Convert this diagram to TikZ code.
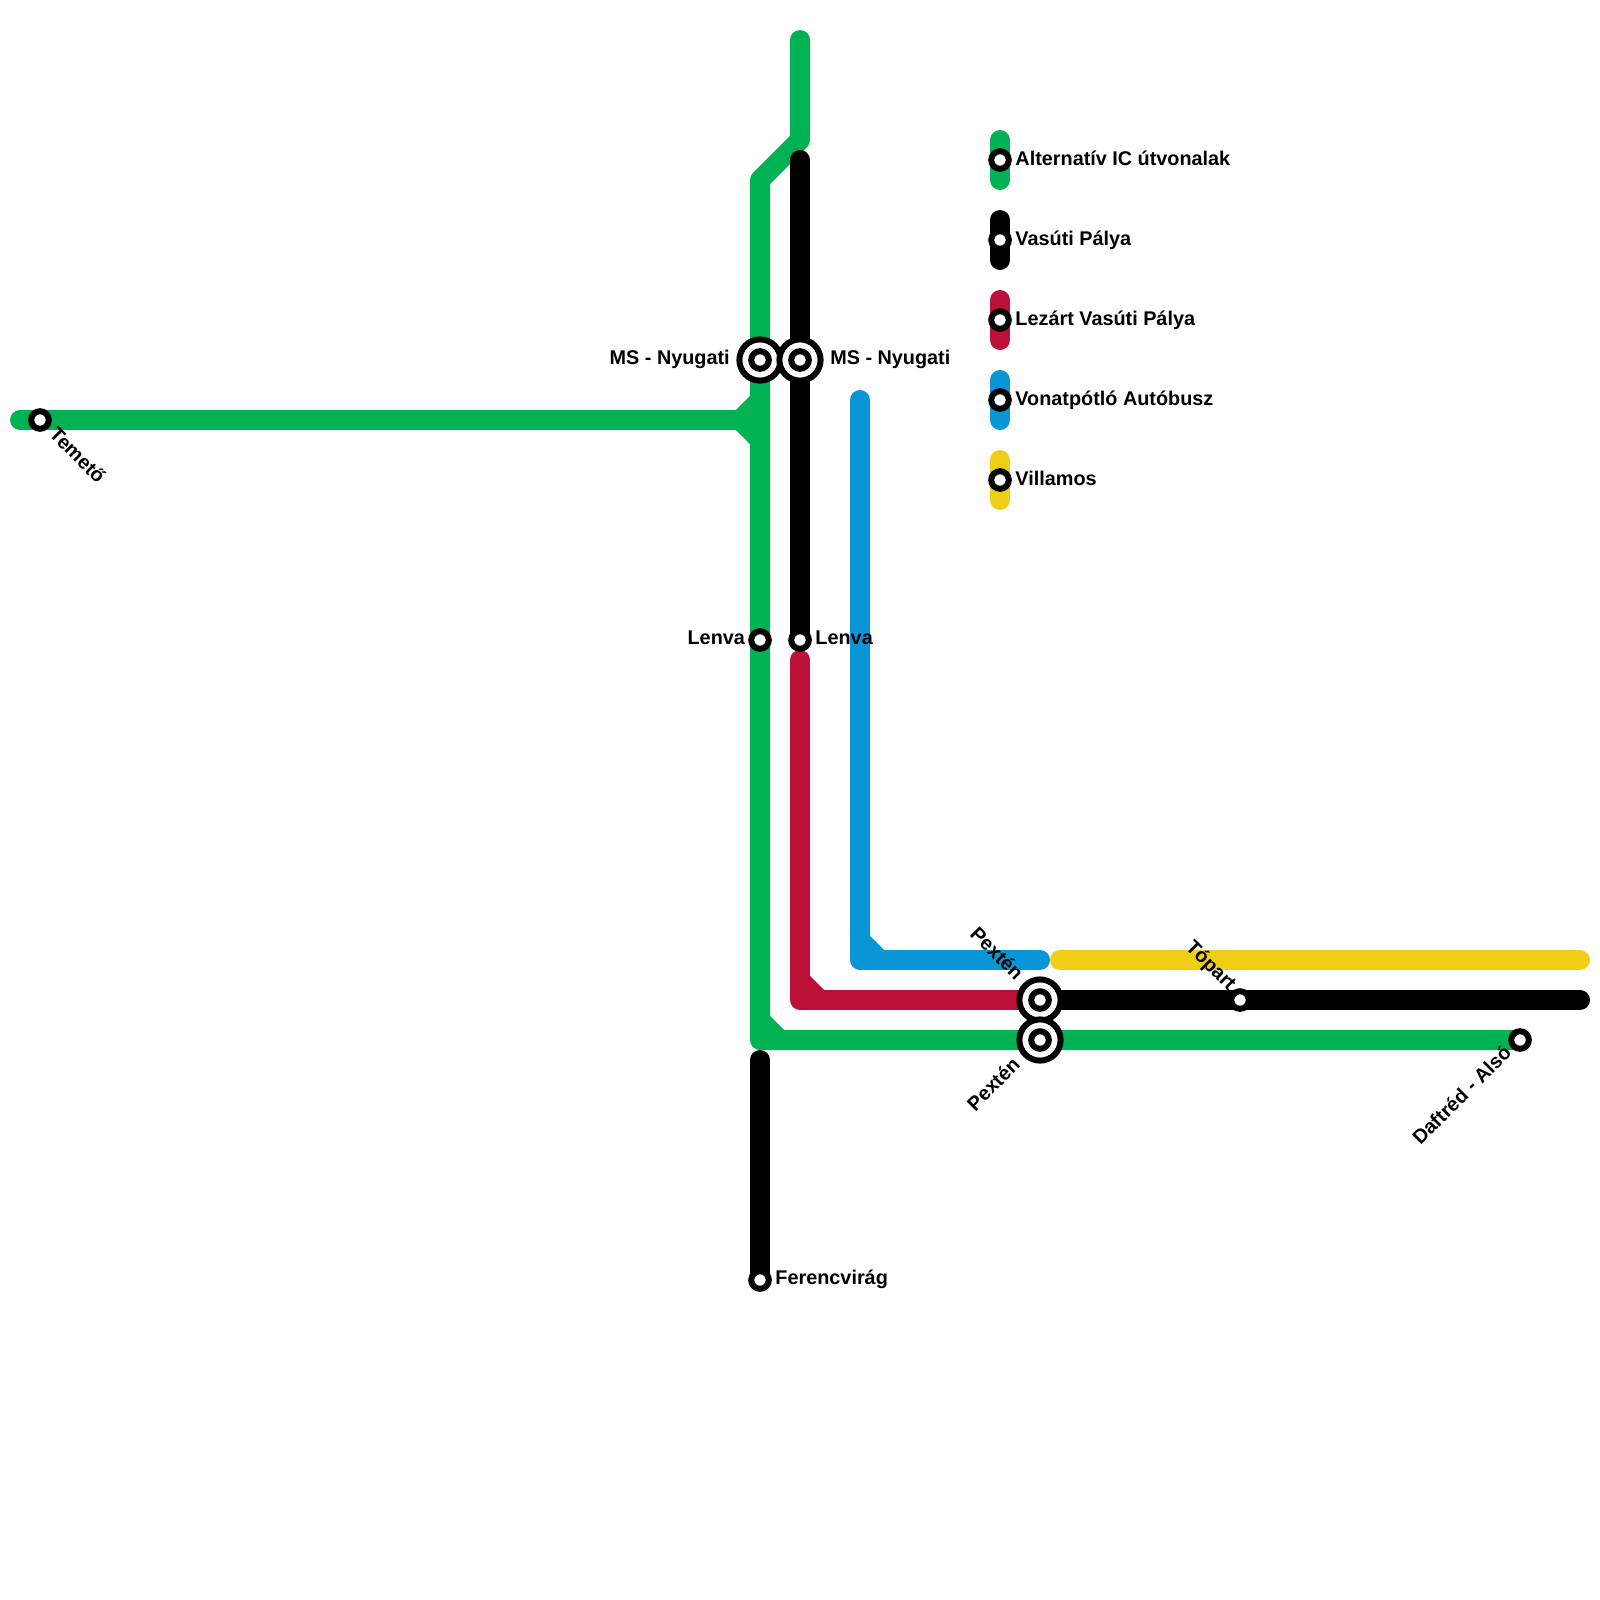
\documentclass[tikz,border=0pt]{standalone}
\usepackage{fontspec}
\setmainfont{Liberation Sans}
\definecolor{icgreen}{HTML}{00B251}
\definecolor{closedred}{HTML}{BD1038}
\definecolor{busblue}{HTML}{0896D7}
\definecolor{tramyellow}{HTML}{F0CE15}
\tikzset{
  track/.style={line width=0.5cm,line cap=round,line join=round},
  stop/.style={circle,draw=black,fill=white,line width=0.15cm,minimum size=0.44cm,inner sep=0pt},
  hub/.style={circle,draw=black,fill=white,line width=0.15cm,minimum size=1.03cm,inner sep=0pt},
  stoplabel/.style={font=\bfseries\fontsize{14.1}{17}\selectfont,text=black,inner sep=0pt}
}

\begin{document}
\begin{tikzpicture}[x=1cm,y=-1cm]
\useasboundingbox (0,0) rectangle (40,40);
% stations
\coordinate (temeto) at (1,10.5);
\coordinate (nyugatiA) at (19,9);
\coordinate (nyugatiB) at (20,9);
\coordinate (lenvaA) at (19,16);
\coordinate (lenvaB) at (20,16);
\coordinate (ferencvirag) at (19,32);
\coordinate (pextenA) at (26,25);
\coordinate (pextenB) at (26,26);
\coordinate (topart) at (31,25);
\coordinate (daftred) at (38,26);
% line ends
\coordinate (greenTop) at (20,1);
\coordinate (greenBend) at (20,3.5);
\coordinate (greenKnee) at (19,4.5);
\coordinate (greenCorner) at (19,26);
\coordinate (greenWest) at (0.5,10.5);
\coordinate (blackTop) at (20,4);
\coordinate (blackFoot) at (19,26.5);
\coordinate (blackEast) at (39.5,25);
\coordinate (redTop) at (20,16.5);
\coordinate (redCorner) at (20,25);
\coordinate (blueTop) at (21.5,10);
\coordinate (blueCorner) at (21.5,24);
\coordinate (blueEnd) at (26,24);
\coordinate (yellowStart) at (26.5,24);
\coordinate (yellowEnd) at (39.5,24);
% lines
\draw[track,icgreen] (greenTop) -- (greenBend) -- (greenKnee) -- (greenCorner) -- (daftred);
\draw[track,icgreen] (greenWest) -- (18.5,10.5);
\draw[track,icgreen,line cap=butt,line join=miter] (19,10) -- (18.5,10.5) -- (19,11);
\draw[track,icgreen,line cap=butt,line join=miter] (19,25.5) -- (19.5,26);
\draw[track] (blackTop) -- (lenvaB);
\draw[track] (blackFoot) -- (ferencvirag);
\draw[track] (pextenA) -- (topart) -- (blackEast);
\draw[track,closedred] (redTop) -- (redCorner) -- (pextenA);
\draw[track,closedred,line cap=butt] (20,24.5) -- (20.5,25);
\draw[track,busblue] (blueTop) -- (blueCorner) -- (blueEnd);
\draw[track,busblue,line cap=butt] (21.5,23.5) -- (22,24);
\draw[track,tramyellow] (yellowStart) -- (yellowEnd);
% legend
\foreach \n/\y/\c/\t in {a/4/icgreen/Alternatív IC útvonalak,b/6/black/Vasúti Pálya,c/8/closedred/Lezárt Vasúti Pálya,d/10/busblue/Vonatpótló Autóbusz,e/12/tramyellow/Villamos}{
  \draw[track,\c] (25,\y-0.5) -- (25,\y+0.5);
  \node[stop] (key\n) at (25,\y) {};
  \node[stoplabel,anchor=mid west] (keytext\n) at (25.38,\y+0.04) {\t};
}
% stops
\foreach \s in {temeto,lenvaA,lenvaB,ferencvirag,topart,daftred}
  \node[stop] (stop\s) at (\s) {};
\foreach \s in {nyugatiA,nyugatiB,pextenA,pextenB}{
  \node[hub] (hub\s) at (\s) {};
  \node[stop] (stop\s) at (\s) {};
}
% labels
\node[stoplabel,anchor=mid east] (labelNyugatiA) at (18.25,9.02) {MS - Nyugati};
\node[stoplabel,anchor=mid west] (labelNyugatiB) at (20.75,9.02) {MS - Nyugati};
\node[stoplabel,anchor=mid east] (labelLenvaA) at (18.63,16.02) {Lenva};
\node[stoplabel,anchor=mid west] (labelLenvaB) at (20.38,16.02) {Lenva};
\node[stoplabel,anchor=mid west] (labelFerencvirag) at (19.38,32.02) {Ferencvirág};
\node[stoplabel,anchor=mid west,rotate=-45] (labelTemeto) at (1.27,10.82) {Temető};
\node[stoplabel,anchor=mid east,rotate=-45] (labelPextenA) at (25.45,24.47) {Pextén};
\node[stoplabel,anchor=mid east,rotate=45] (labelPextenB) at (25.47,26.58) {Pextén};
\node[stoplabel,anchor=mid east,rotate=-45] (labelTopart) at (30.78,24.73) {Tópart};
\node[stoplabel,anchor=mid east,rotate=45] (labelDaftred) at (37.75,26.28) {Daftréd - Alsó};
\end{tikzpicture}
\end{document}
